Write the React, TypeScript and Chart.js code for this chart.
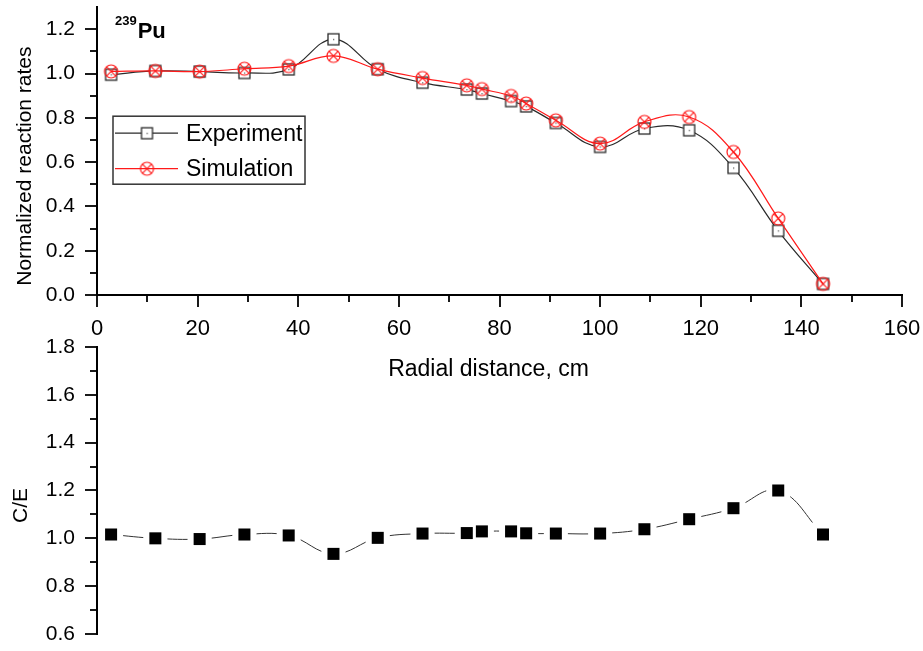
import React, { useEffect, useRef } from "react";
import { Chart, registerables } from "chart.js";

Chart.register(...registerables);

const FONT = '"Liberation Sans", Arial, Helvetica, sans-serif';

// ---------------- data ----------------
const radialDistance = [2.8, 11.6, 20.4, 29.3, 38.1, 47.0, 55.8, 64.7, 73.5, 76.5, 82.3, 85.3, 91.2, 100.0, 108.8, 117.7, 126.5, 135.4, 144.3];
const experiment = [0.995, 1.012, 1.009, 1.003, 1.019, 1.155, 1.02, 0.959, 0.928, 0.91, 0.876, 0.852, 0.777, 0.669, 0.752, 0.744, 0.574, 0.29, 0.05];
const simulation = [1.01, 1.012, 1.009, 1.022, 1.034, 1.08, 1.02, 0.98, 0.947, 0.93, 0.899, 0.865, 0.789, 0.684, 0.782, 0.804, 0.646, 0.346, 0.05];
const ratioCE = [1.016, 1.0, 0.997, 1.016, 1.012, 0.935, 1.002, 1.02, 1.022, 1.029, 1.029, 1.021, 1.02, 1.02, 1.038, 1.08, 1.126, 1.2, 1.016];

const xTickLabels = [0, 20, 40, 60, 80, 100, 120, 140, 160];
const topYTickLabels = ["0.0", "0.2", "0.4", "0.6", "0.8", "1.0", "1.2"];
const bottomYTickLabels = ["0.6", "0.8", "1.0", "1.2", "1.4", "1.6", "1.8"];

const seriesNames = ["Experiment", "Simulation"];
const nuclide = { mass: "239", symbol: "Pu" };
const xTitle = "Radial distance, cm";
const yTitleTop = "Normalized reaction rates";
const yTitleBottom = "C/E";

// ---------------- markers ----------------
function makeSquareMarker(): HTMLCanvasElement {
  const c = document.createElement("canvas");
  c.width = 15;
  c.height = 15;
  const g = c.getContext("2d")!;
  g.fillStyle = "#fff";
  g.fillRect(2, 2, 11, 11);
  g.strokeStyle = "#2a2a2a";
  g.lineWidth = 1.3;
  g.strokeRect(2, 2, 11, 11);
  g.fillStyle = "#666";
  g.fillRect(7, 7, 1.3, 1.3);
  return c;
}

function makeCrossCircleMarker(): HTMLCanvasElement {
  const c = document.createElement("canvas");
  c.width = 17;
  c.height = 17;
  const g = c.getContext("2d")!;
  const cx = 8.5;
  const r = 6.5;
  g.strokeStyle = "#ff1a1a";
  g.lineWidth = 1.2;
  g.beginPath();
  g.arc(cx, cx, r, 0, Math.PI * 2);
  g.stroke();
  const d = r * Math.SQRT1_2;
  g.beginPath();
  g.moveTo(cx - d, cx - d);
  g.lineTo(cx + d, cx + d);
  g.moveTo(cx + d, cx - d);
  g.lineTo(cx - d, cx + d);
  g.stroke();
  return c;
}

// ---------------- plugins ----------------
type TickCfg = { id: string; skip?: (v: number) => boolean };

function tickMarksPlugin(axes: TickCfg[]) {
  return {
    id: "tickMarks",
    afterDraw(chart: any) {
      const ctx = chart.ctx;
      const area = chart.chartArea;
      ctx.save();
      ctx.strokeStyle = "#000";
      ctx.lineWidth = 1.8;
      for (const a of axes) {
        const scale = chart.scales[a.id];
        if (!scale) continue;
        for (const t of scale.ticks) {
          if (a.skip && a.skip(t.value)) continue;
          const major = t.label !== "" && t.label !== undefined;
          const len = major ? 12 : 7;
          const p = Math.round(scale.getPixelForValue(t.value));
          ctx.beginPath();
          if (scale.isHorizontal()) {
            ctx.moveTo(p, area.bottom);
            ctx.lineTo(p, area.bottom + len);
          } else {
            ctx.moveTo(area.left, p);
            ctx.lineTo(area.left - len, p);
          }
          ctx.stroke();
        }
      }
      ctx.restore();
    },
  };
}

function topDecorPlugin(sq: HTMLCanvasElement, cc: HTMLCanvasElement) {
  return {
    id: "topDecor",
    afterDraw(chart: any) {
      const ctx = chart.ctx;
      const a = chart.chartArea;
      ctx.save();
      // y title
      ctx.fillStyle = "#000";
      ctx.font = `21px ${FONT}`;
      ctx.textAlign = "center";
      ctx.textBaseline = "middle";
      ctx.translate(a.left - 72, (a.top + a.bottom) / 2 + 15);
      ctx.rotate(-Math.PI / 2);
      ctx.fillText(yTitleTop, 0, 0);
      ctx.restore();

      // x title
      ctx.save();
      ctx.fillStyle = "#000";
      ctx.font = `23px ${FONT}`;
      ctx.textAlign = "center";
      ctx.textBaseline = "middle";
      ctx.fillText(xTitle, (a.left + a.right) / 2 - 11, a.bottom + 75);
      ctx.restore();

      // nuclide label
      ctx.save();
      ctx.fillStyle = "#000";
      ctx.textBaseline = "alphabetic";
      ctx.textAlign = "left";
      ctx.font = `bold 13px ${FONT}`;
      const x0 = a.left + 18;
      ctx.fillText(nuclide.mass, x0, a.top + 18);
      const w = ctx.measureText(nuclide.mass).width;
      ctx.font = `bold 22px ${FONT}`;
      ctx.fillText(nuclide.symbol, x0 + w + 1, a.top + 30.5);
      ctx.restore();

      // legend
      ctx.save();
      const lx = a.left + 16;
      const ly = a.top + 109;
      const lw = 192;
      const lh = 68;
      ctx.fillStyle = "#fff";
      ctx.fillRect(lx, ly, lw, lh);
      ctx.strokeStyle = "#333";
      ctx.lineWidth = 1.5;
      ctx.strokeRect(lx, ly, lw, lh);
      const rows = [
        { y: ly + 17, color: "#2a2a2a", img: sq, text: seriesNames[0] },
        { y: ly + 52.5, color: "#ff1a1a", img: cc, text: seriesNames[1] },
      ];
      for (const r of rows) {
        ctx.strokeStyle = r.color;
        ctx.lineWidth = 1.3;
        ctx.beginPath();
        ctx.moveTo(lx + 2, r.y);
        ctx.lineTo(lx + 65, r.y);
        ctx.stroke();
        ctx.drawImage(r.img, lx + 34 - r.img.width / 2, r.y - r.img.height / 2);
        ctx.fillStyle = "#000";
        ctx.font = `23px ${FONT}`;
        ctx.textAlign = "left";
        ctx.textBaseline = "middle";
        ctx.fillText(r.text, lx + 73, r.y + 1);
      }
      ctx.restore();
    },
  };
}

const bottomDecorPlugin = {
  id: "bottomDecor",
  afterDraw(chart: any) {
    const ctx = chart.ctx;
    const a = chart.chartArea;
    ctx.save();
    ctx.fillStyle = "#000";
    ctx.font = `21px ${FONT}`;
    ctx.textAlign = "center";
    ctx.textBaseline = "middle";
    ctx.translate(a.left - 76, (a.top + a.bottom) / 2 + 15);
    ctx.rotate(-Math.PI / 2);
    ctx.fillText(yTitleBottom, 0, 0);
    ctx.restore();
  },
};

function fixY(width: number) {
  return (s: any) => {
    s.width = width;
    s.paddingTop = 0;
    s.paddingBottom = 0;
  };
}

export default function App() {
  const topRef = useRef<HTMLCanvasElement | null>(null);
  const botRef = useRef<HTMLCanvasElement | null>(null);

  useEffect(() => {
    const sq = makeSquareMarker();
    const cc = makeCrossCircleMarker();

    const expPts = radialDistance.map((x, i) => ({ x, y: experiment[i] }));
    const simPts = radialDistance.map((x, i) => ({ x, y: simulation[i] }));
    const cePts = radialDistance.map((x, i) => ({ x, y: ratioCE[i] }));

    const tickFont = (size: number) => ({ size, family: FONT });
    const noGrid = { display: false, drawTicks: false, drawOnChartArea: false };

    const top = new Chart(topRef.current!, {
      type: "line",
      data: {
        datasets: [
          {
            label: seriesNames[1],
            data: simPts,
            borderColor: "#ff1a1a",
            borderWidth: 1.2,
            tension: 0.4,
            pointStyle: cc as any,
            pointRadius: 6,
            fill: false,
          },
          {
            label: seriesNames[0],
            data: expPts,
            borderColor: "#2a2a2a",
            borderWidth: 1.2,
            tension: 0.4,
            pointStyle: sq as any,
            pointRadius: 6,
            fill: false,
          },
        ],
      },
      options: {
        animation: false,
        responsive: false,
        maintainAspectRatio: false,
        layout: { padding: { left: 0, right: 21, top: 7, bottom: 0 } },
        plugins: { legend: { display: false }, tooltip: { enabled: false } },
        scales: {
          x: {
            type: "linear",
            min: 0,
            max: 160,
            grid: noGrid,
            border: { display: true, color: "#000", width: 2 },
            ticks: {
              stepSize: 10,
              autoSkip: false,
              maxRotation: 0,
              padding: 21,
              color: "#000",
              font: tickFont(22),
              callback: (v: any) => (xTickLabels.includes(Number(v)) ? String(v) : ""),
            },
            afterFit: (s: any) => {
              s.height = 105;
              s.paddingLeft = 0;
              s.paddingRight = 0;
            },
          },
          y: {
            type: "linear",
            min: 0,
            max: 1.3,
            grid: noGrid,
            border: { display: true, color: "#000", width: 2 },
            ticks: {
              stepSize: 0.1,
              autoSkip: false,
              padding: 22,
              color: "#000",
              font: tickFont(21),
              callback: (v: any) => {
                const s = Number(v).toFixed(1);
                return topYTickLabels.includes(s) ? s : "";
              },
            },
            afterFit: fixY(97),
          },
        },
      } as any,
      plugins: [
        tickMarksPlugin([{ id: "x" }, { id: "y", skip: (v) => v > 1.25 }]),
        topDecorPlugin(sq, cc),
      ],
    });

    const bottom = new Chart(botRef.current!, {
      type: "line",
      data: {
        datasets: [
          {
            label: "C/E markers",
            data: cePts,
            showLine: false,
            pointStyle: "rect",
            pointRadius: 8.5,
            pointBackgroundColor: "#000",
            pointBorderWidth: 0,
          },
          {
            label: "gap",
            data: cePts,
            showLine: false,
            pointStyle: "rect",
            pointRadius: 17,
            pointBackgroundColor: "#fff",
            pointBorderWidth: 0,
          },
          {
            label: "C/E line",
            data: cePts,
            borderColor: "#333",
            borderWidth: 1,
            tension: 0.4,
            pointRadius: 0,
            fill: false,
          },
        ],
      },
      options: {
        animation: false,
        responsive: false,
        maintainAspectRatio: false,
        layout: { padding: { left: 0, right: 21, top: 12, bottom: 11 } },
        plugins: { legend: { display: false }, tooltip: { enabled: false } },
        scales: {
          x: { type: "linear", min: 0, max: 160, display: false },
          y: {
            type: "linear",
            min: 0.6,
            max: 1.8,
            grid: noGrid,
            border: { display: true, color: "#000", width: 2 },
            ticks: {
              stepSize: 0.1,
              autoSkip: false,
              padding: 22,
              color: "#000",
              font: tickFont(21),
              callback: (v: any) => {
                const s = Number(v).toFixed(1);
                return bottomYTickLabels.includes(s) ? s : "";
              },
            },
            afterFit: fixY(97),
          },
        },
      } as any,
      plugins: [tickMarksPlugin([{ id: "y" }]), bottomDecorPlugin],
    });

    return () => {
      top.destroy();
      bottom.destroy();
    };
  }, []);

  return (
    <div style={{ position: "absolute", left: 0, top: 0, width: 923, height: 651, background: "#fff", overflow: "hidden" }}>
      <canvas
        ref={botRef}
        width={923}
        height={321}
        style={{ position: "absolute", left: 0, top: 330, width: 923, height: 321, zIndex: 1 }}
      />
      <canvas
        ref={topRef}
        width={923}
        height={400}
        style={{ position: "absolute", left: 0, top: 0, width: 923, height: 400, zIndex: 2 }}
      />
    </div>
  );
}
